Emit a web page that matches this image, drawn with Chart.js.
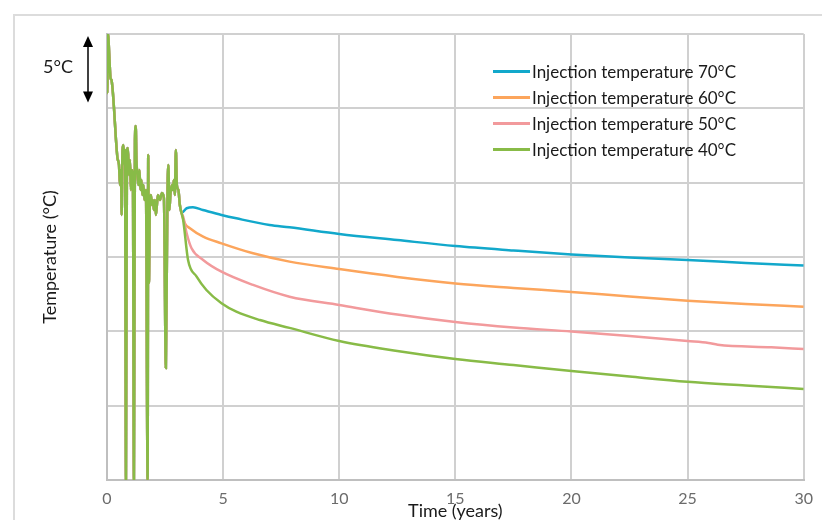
<!DOCTYPE html>
<html>
<head>
<meta charset="utf-8">
<script src="https://cdn.jsdelivr.net/npm/chart.js@4.4.1/dist/chart.umd.min.js"></script>
<style>
    html, body { margin: 0; padding: 0; background: #fff; }
    #wrap { position: relative; width: 822px; height: 520px; overflow: hidden; font-family: Lato, 'Open Sans', sans-serif; color: #1a1a1a; }
    #frame { position: absolute; left: 13px; top: 14px; width: 840px; height: 540px; border: 2px solid #dcdcdc; box-sizing: border-box; }
    #chart { position: absolute; left: 0; top: 0; }
    #legend { position: absolute; left: 493px; top: 58px; }
    #legend .row { height: 26px; display: flex; align-items: center; font-size: 17px; white-space: nowrap; }
    #legend .swatch { width: 37px; height: 3px; margin-right: 2px; }
    #delta { position: absolute; left: 43px; top: 55px; font-size: 18px; }
</style>
</head>
<body>
<div id="wrap">
    <div id="frame"></div>
    <canvas id="chart" width="822" height="520"></canvas>
    <div id="delta">5°C</div>
    <div id="legend"></div>
</div>
<script>
// Series names and colours (legend order)
const seriesNames = ['Injection temperature 70°C', 'Injection temperature 60°C', 'Injection temperature 50°C', 'Injection temperature 40°C'];
const seriesColors = ['#12a8cb', '#fca55c', '#f29a9c', '#88bb47'];

// Shared noisy history before the injection starts (years, °C relative to axis bottom)
const historyYears = [0, 0.013, 0.043, 0.107, 0.150, 0.193, 0.236, 0.301, 0.387, 0.451,
    0.516, 0.559, 0.602, 0.632, 0.666, 0.709, 0.752, 0.774, 0.817, 0.859,
    0.902, 0.945, 0.988, 1.031, 1.074, 1.117, 1.160, 1.203, 1.238, 1.268,
    1.311, 1.354, 1.397, 1.440, 1.483, 1.526, 1.569, 1.611, 1.676, 1.749,
    1.775, 1.805, 1.848, 1.891, 1.934, 1.977, 2.020, 2.063, 2.106, 2.149,
    2.192, 2.278, 2.364, 2.450, 2.535, 2.600, 2.643, 2.686, 2.729, 2.793,
    2.836, 2.879, 2.922, 2.965, 3.008, 3.073, 3.137, 3.210];
const historyTemps = [31, 26.03, 30.0, 28.25, 27.04, 26.91, 26.37, 25.02, 22.87, 21.66,
    21.19, 19.84, 20.85, 17.83, 22.20, 22.54, 21.19, 22.20, 0, 22.20,
    22.33, 20.52, 21.53, 19.51, 20.85, 19.84, 0, 22.87, 23.81, 21.53,
    20.52, 19.84, 20.85, 19.51, 20.18, 19.17, 19.84, 18.84, 19.51, 0,
    21.86, 13.25, 18.84, 19.17, 18.50, 18.84, 18.16, 18.84, 17.83, 18.50,
    19.17, 18.84, 19.31, 18.97, 7.53, 18.84, 21.19, 18.16, 19.17, 19.84,
    19.51, 20.18, 19.17, 22.20, 19.84, 19.51, 18.50, 17.96];

// Curves after injection starts
const years70 = [3.43, 3.70, 4.13, 4.93, 5.57, 7.0, 7.86, 10, 12.5, 15, 17.5, 20, 22.5, 25, 27.5, 30];
const temps70 = [18.28, 18.34, 18.16, 17.83, 17.6, 17.15, 17.0, 16.55, 16.14, 15.74, 15.44, 15.17, 14.97, 14.8, 14.6, 14.42];
const years60 = [3.35, 3.57, 4.14, 4.93, 6.29, 7.86, 10, 12.5, 15, 17.5, 20, 22.5, 25, 27.5, 30];
const temps60 = [17.27, 16.93, 16.37, 15.92, 15.25, 14.69, 14.19, 13.66, 13.22, 12.92, 12.65, 12.34, 12.06, 11.84, 11.66];
const years50 = [3.28, 3.43, 3.64, 4.14, 4.93, 6.29, 7.86, 10, 12.5, 15, 17.5, 20, 22.5, 25, 25.9, 26.3, 28.6, 30];
const temps50 = [17.71, 16.6, 15.59, 14.8, 14.01, 13.12, 12.33, 11.77, 11.13, 10.63, 10.26, 9.99, 9.69, 9.35, 9.22, 9.1, 8.93, 8.81];
const years40 = [3.28, 3.49, 3.86, 4.28, 4.93, 5.57, 6.58, 7.86, 10, 12.5, 15, 17.5, 20, 22.5, 25, 27.5, 30];
const temps40 = [17.49, 14.8, 13.68, 12.78, 11.89, 11.32, 10.76, 10.23, 9.35, 8.68, 8.14, 7.74, 7.33, 6.96, 6.61, 6.36, 6.12];

// Axis ranges
const xTicks = [0, 5, 10, 15, 20, 25, 30];
const yMin = 0, yMax = 30, yStep = 5;

function buildPoints(years, temps) {
    const pts = historyYears.map((x, i) => ({ x: x, y: historyTemps[i] }));
    years.forEach((x, i) => pts.push({ x: x, y: temps[i] }));
    return pts;
}

const tails = [[years70, temps70], [years60, temps60], [years50, temps50], [years40, temps40]];

// green drawn on top, so list datasets in reverse legend order
const datasets = [3, 2, 1, 0].map(i => ({
    label: seriesNames[i],
    data: buildPoints(tails[i][0], tails[i][1]),
    borderColor: seriesColors[i],
    backgroundColor: seriesColors[i],
    borderWidth: 2.5,
    pointRadius: 0,
    fill: false
}));

// HTML legend
const legendEl = document.getElementById('legend');
seriesNames.forEach((name, i) => {
    const row = document.createElement('div');
    row.className = 'row';
    row.innerHTML = '<span class="swatch" style="background:' + seriesColors[i] + '"></span><span>' + name + '</span>';
    legendEl.appendChild(row);
});

// double arrow showing the 5°C span
const deltaArrow = {
    id: 'deltaArrow',
    afterDraw(chart) {
        const { ctx, chartArea, scales } = chart;
        const x = chartArea.left - 19;
        const top = scales.y.getPixelForValue(yMax) + 2;
        const bottom = scales.y.getPixelForValue(25.4);
        ctx.save();
        ctx.strokeStyle = '#000';
        ctx.fillStyle = '#000';
        ctx.lineWidth = 1.5;
        ctx.beginPath();
        ctx.moveTo(x, top + 8);
        ctx.lineTo(x, bottom - 8);
        ctx.stroke();
        ctx.beginPath();
        ctx.moveTo(x, top);
        ctx.lineTo(x - 5, top + 11);
        ctx.lineTo(x + 5, top + 11);
        ctx.closePath();
        ctx.fill();
        ctx.beginPath();
        ctx.moveTo(x, bottom);
        ctx.lineTo(x - 5, bottom - 11);
        ctx.lineTo(x + 5, bottom - 11);
        ctx.closePath();
        ctx.fill();
        ctx.restore();
    }
};

const ctx = document.getElementById('chart');
new Chart(ctx, {
    type: 'line',
    data: { datasets: datasets },
    options: {
        responsive: false,
        animation: false,
        layout: { padding: { top: 34, right: 17, left: 0, bottom: 0 } },
        plugins: {
            legend: { display: false },
            tooltip: { enabled: false }
        },
        elements: { line: { cubicInterpolationMode: 'monotone' } },
        scales: {
            x: {
                type: 'linear',
                min: xTicks[0],
                max: xTicks[xTicks.length - 1],
                afterBuildTicks: axis => { axis.ticks = xTicks.map(v => ({ value: v })); },
                ticks: { color: '#6b6b6b', font: { family: 'Lato', size: 16 }, padding: 9, maxRotation: 0 },
                grid: { color: '#d0d0d0', lineWidth: 2, drawTicks: false },
                border: { color: '#bfbfbf', width: 2 },
                title: { display: true, text: 'Time (years)', color: '#1a1a1a', font: { family: 'Lato', size: 18 }, padding: { top: 0, bottom: -2 } },
                afterFit: axis => { axis.height = 40; }
            },
            y: {
                min: yMin,
                max: yMax,
                ticks: { display: false, stepSize: yStep },
                grid: { color: '#d0d0d0', lineWidth: 2, drawTicks: false },
                border: { color: '#bfbfbf', width: 2 },
                title: { display: true, text: 'Temperature (°C)', color: '#1a1a1a', font: { family: 'Lato', size: 18 }, padding: { top: 39, bottom: 0 } },
                afterFit: axis => { axis.width = 107; }
            }
        }
    },
    plugins: [deltaArrow]
});
</script>
</body>
</html>
